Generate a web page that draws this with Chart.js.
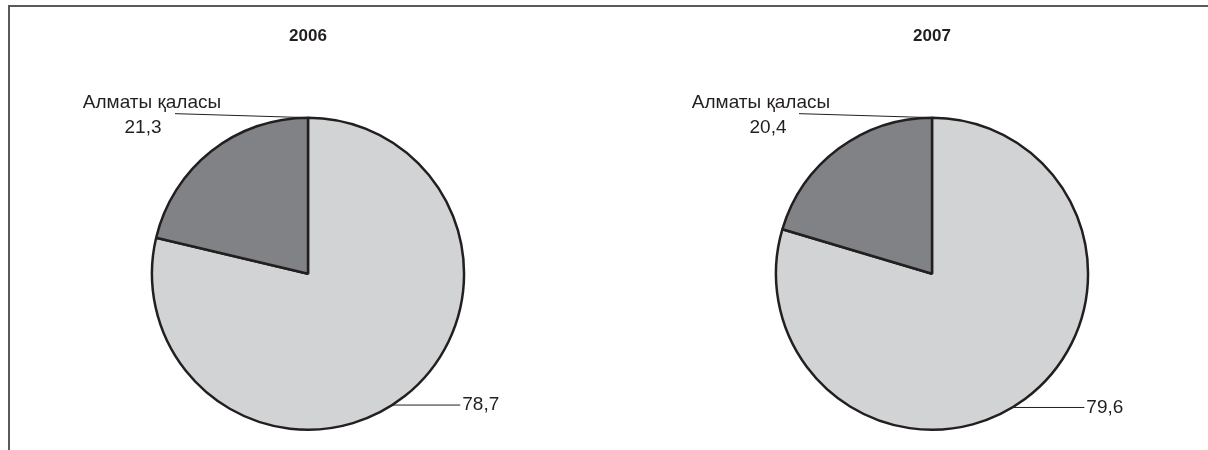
<!DOCTYPE html>
<html>
<head>
<meta charset="utf-8">
<script src="https://cdn.jsdelivr.net/npm/chart.js@4.4.1/dist/chart.umd.min.js"></script>
<style>
  html, body { margin: 0; padding: 0; background: #fff; overflow: hidden; }
  #wrap { position: relative; width: 1208px; height: 450px; }
  #frame {
    position: absolute; left: 8px; top: 5px; width: 1200px; height: 445px;
    border-top: 2px solid #5a5a5a; border-left: 2px solid #5a5a5a; box-sizing: border-box;
  }
  .box { position: absolute; top: 0; width: 552px; height: 450px; }
</style>
</head>
<body>
<div id="wrap">
  <div id="frame"></div>
  <div class="box" style="left:32px"><canvas id="c2006"></canvas></div>
  <div class="box" style="left:656px"><canvas id="c2007"></canvas></div>
</div>
<script>
const years = ["2006", "2007"];
const categories = ["", "Алматы қаласы"];
const values2006 = [78.7, 21.3];
const values2007 = [79.6, 20.4];
const colors = ["#d1d3d4", "#808285"];

const fmt = v => v.toFixed(1).replace(".", ",");

// leader labels drawn from the arc geometry
const leaderLabels = {
  id: "leaderLabels",
  afterDatasetsDraw(chart, args, opts) {
    const ctx = chart.ctx;
    const arcs = chart.getDatasetMeta(0).data;
    const vals = chart.data.datasets[0].data;
    ctx.save();
    ctx.strokeStyle = "#231f20";
    ctx.lineWidth = 1;
    ctx.fillStyle = "#231f20";
    ctx.font = "19px 'Liberation Sans', Arial, sans-serif";

    // small slice: label to the upper left, line to the top of the pie
    const a = arcs[1].getProps(["x", "y", "endAngle", "outerRadius"], true);
    const tx = a.x + a.outerRadius * Math.cos(a.endAngle);
    const ty = a.y + a.outerRadius * Math.sin(a.endAngle);
    ctx.beginPath();
    ctx.moveTo(tx - 133, ty - 4);
    ctx.lineTo(tx, ty);
    ctx.stroke();
    ctx.textAlign = "center";
    ctx.textBaseline = "alphabetic";
    ctx.fillText(chart.data.labels[1], tx + opts.nameDx, ty - 10);
    ctx.fillText(fmt(vals[1]), tx + opts.valueDx, ty + 15);

    // big slice: horizontal line to the right
    const b = arcs[0].getProps(["x", "y", "startAngle", "endAngle", "outerRadius"], true);
    const ang = b.startAngle + (b.endAngle - b.startAngle) * 0.52;
    const px = b.x + b.outerRadius * Math.cos(ang);
    const py = b.y + b.outerRadius * Math.sin(ang);
    ctx.beginPath();
    ctx.moveTo(px, py);
    ctx.lineTo(px + opts.len, py);
    ctx.stroke();
    ctx.textAlign = "left";
    ctx.textBaseline = "middle";
    ctx.fillText(fmt(vals[0]), px + opts.len + 2, py);
    ctx.restore();
  }
};

function makePie(id, year, values, nameDx, valueDx, len) {
  new Chart(document.getElementById(id), {
    type: "pie",
    data: {
      labels: categories,
      datasets: [{
        data: values,
        backgroundColor: colors,
        borderColor: "#231f20",
        borderWidth: 2.5
      }]
    },
    options: {
      responsive: true,
      maintainAspectRatio: false,
      animation: false,
      layout: { padding: { top: 0, bottom: 19 } },
      plugins: {
        legend: { display: false },
        tooltip: { enabled: false },
        title: {
          display: true,
          text: year,
          color: "#231f20",
          font: { family: "'Liberation Sans', Arial, sans-serif", size: 17, weight: "bold" },
          padding: { top: 26, bottom: 70 }
        },
        leaderLabels: { nameDx: nameDx, valueDx: valueDx, len: len }
      }
    },
    plugins: [leaderLabels]
  });
}

makePie("c2006", years[0], values2006, -156, -165, 68);
makePie("c2007", years[1], values2007, -171, -164, 72);
</script>
</body>
</html>
